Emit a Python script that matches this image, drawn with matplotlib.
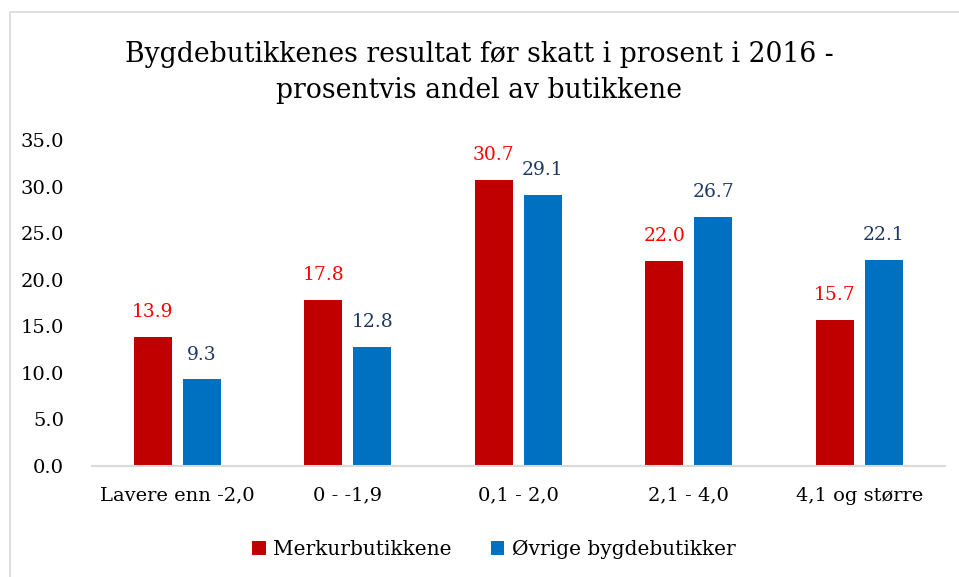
import numpy as np
import matplotlib.pyplot as plt
from matplotlib.patches import Rectangle

# Data
kategorier = ["Lavere enn -2,0", "0 - -1,9", "0,1 - 2,0", "2,1 - 4,0", "4,1 og større"]
merkur = [13.9, 17.8, 30.7, 22.0, 15.7]
ovrige = [9.3, 12.8, 29.1, 26.7, 22.1]
serier = ["Merkurbutikkene", "Øvrige bygdebutikker"]

plt.rcParams['font.family'] = ['DejaVu Serif']

fig = plt.figure(figsize=(9.59, 5.77), dpi=100)
ax = fig.add_axes([0.0959, 0.1924, 0.889, 0.565])

# Ramme rundt diagrammet
fig.patches.append(Rectangle((10 / 959, -0.1), 1.2, 1.1 - 12 / 577,
                             transform=fig.transFigure, fill=False,
                             edgecolor="#D9D9D9", linewidth=1.2))

x = np.arange(len(kategorier))
b = 0.224
off = 0.144
ax.bar(x - off, merkur, b, color="#C00000", label=serier[0])
ax.bar(x + off, ovrige, b, color="#0070C0", label=serier[1])

for xi, v in zip(x, merkur):
    ax.text(xi - off, v + 1.7, f"{v:.1f}", ha="center", va="bottom",
            color="#FF0000", fontsize=13.5)
for xi, v in zip(x, ovrige):
    ax.text(xi + off, v + 1.7, f"{v:.1f}", ha="center", va="bottom",
            color="#1F3864", fontsize=13.5)

ax.set_xlim(-0.5, len(kategorier) - 0.5)
ax.set_ylim(0, 35)
ax.set_yticks(np.arange(0, 35.1, 5))
ax.set_yticklabels([f"{t:.1f}" for t in np.arange(0, 35.1, 5)], fontsize=14)
ax.set_xticks(x)
ax.set_xticklabels(kategorier, fontsize=14)
ax.tick_params(axis="both", length=0, pad=15)
ax.tick_params(axis="y", pad=20)
for s in ["top", "right", "left"]:
    ax.spines[s].set_visible(False)
ax.spines["bottom"].set_color("#D9D9D9")
ax.spines["bottom"].set_linewidth(1.5)

fig.text(0.5, 0.874, "Bygdebutikkenes resultat før skatt i prosent i 2016 -\nprosentvis andel av butikkene",
         ha="center", va="center", fontsize=19.2, linespacing=1.45)

fig.legend(loc="center", bbox_to_anchor=(0.515, 0.048), ncol=2, frameon=False,
           fontsize=14.5, handlelength=0.65, handleheight=0.65, handletextpad=0.35,
           columnspacing=2.0)

plt.savefig("out.png", dpi=100)
